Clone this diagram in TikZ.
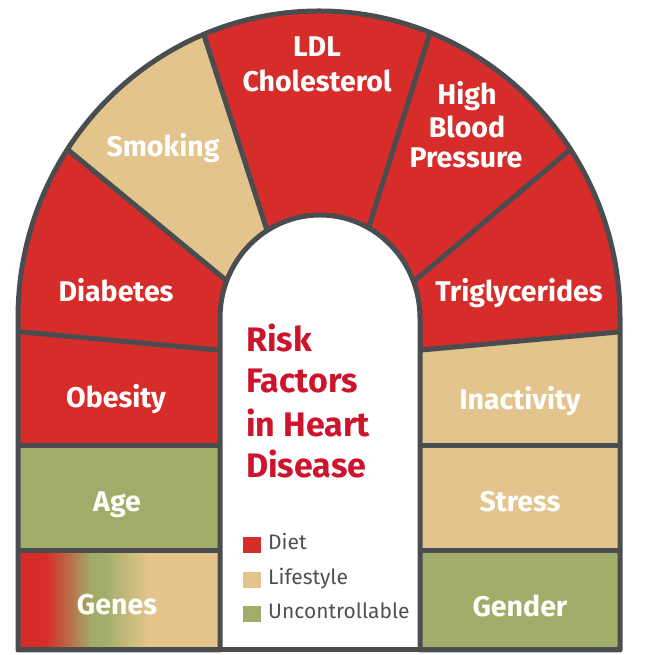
\documentclass[tikz,border=0pt]{standalone}
\usepackage{fontspec}
\setmainfont{Fira Sans}
\definecolor{rf}{HTML}{D62D2A}
\definecolor{tf}{HTML}{E2C48C}
\definecolor{gf}{HTML}{A1AC68}
\definecolor{bd}{HTML}{4A4D4F}
\definecolor{tr}{HTML}{CD142D}
\definecolor{lg}{HTML}{4F5055}
\pgfdeclarehorizontalshading{genesshade}{100bp}{color(0bp)=(rf); color(25bp)=(rf); color(32bp)=(rf); color(43bp)=(gf); color(46bp)=(gf); color(57bp)=(tf); color(100bp)=(tf)}
\tikzset{
  lab/.style={text=white, font=\fontsize{28.5}{32}\selectfont\bfseries, anchor=base, inner sep=0pt},
  ttl/.style={text=tr, font=\fontsize{34}{38}\selectfont\bfseries, anchor=base west, inner sep=0pt},
  leg/.style={text=lg, font=\fontsize{21}{24}\selectfont, anchor=base west, inner sep=0pt},
  divl/.style={draw=bd, line width=5pt, line cap=round},
}
\begin{document}
\begin{tikzpicture}[x=1pt,y=1pt]
\useasboundingbox (0,0) rectangle (667,655);
\def\archpath{(18,5) -- (18,337) arc[start angle=180,end angle=0,x radius=301pt,y radius=307pt] -- (620,5) -- (420,5) -- (420,337) arc[start angle=0,end angle=180,x radius=100pt,y radius=103pt] -- (220,5) -- cycle}
\begin{scope}
\clip \archpath;
\fill[rf] (0,0) rectangle (667,655);
\fill[tf] (10,553) -- (250,355) -- (275,400) -- (191,660) -- cycle;
\fill[tf] (400,209) -- (640,209) -- (640,325) -- (400,303) -- cycle;
\fill[tf] (400,104) rectangle (640,209);
\fill[gf] (400,0) rectangle (640,104);
\fill[gf] (0,104) rectangle (240,209);
\shade[shading=genesshade] (18,5) rectangle (220,104);
% dividers
\draw[divl] (10,553) -- (250,355);
\draw[divl] (191,660) -- (275,400);
\draw[divl] (442,660) -- (360,400);
\draw[divl] (590,522) -- (400,362);
\draw[divl] (0,325) -- (240,303);
\draw[divl] (400,303) -- (640,325);
\draw[divl] (0,209) -- (240,209);
\draw[divl] (0,104) -- (240,104);
\draw[divl] (400,209) -- (640,209);
\draw[divl] (400,104) -- (640,104);
\end{scope}
\draw[bd, line width=5pt, line join=round] \archpath;
\draw[bd, line width=5pt] (18,5) -- (620,5);
% labels
\node[lab] (ldl1) at (317,598) {LDL};
\node[lab] (ldl2) at (317,563) {Cholesterol};
\node[lab] (hbp1) at (467,550) {High};
\node[lab] (hbp2) at (467,517) {Blood};
\node[lab] (hbp3) at (466,487) {Pressure};
\node[lab] (smk) at (163,498) {Smoking};
\node[lab] (dia) at (116,353) {Diabetes};
\node[lab] (tri) at (519,353) {Triglycerides};
\node[lab] (obe) at (116,247) {Obesity};
\node[lab] (ina) at (520,245) {Inactivity};
\node[lab] (age) at (117,143) {Age};
\node[lab] (str) at (520,143) {Stress};
\node[lab] (gen) at (117,40) {Genes};
\node[lab] (gdr) at (520,38) {Gender};
% title
\node[ttl] (t1) at (246,303) {Risk};
\node[ttl] (t2) at (246,262) {Factors};
\node[ttl] (t3) at (246,218) {in Heart};
\node[ttl] (t4) at (246,177) {Disease};
% legend
\fill[rf] (243,102) rectangle (261,118);
\fill[tf] (243,67) rectangle (261,83);
\fill[gf] (243,33) rectangle (261,49);
\node[leg] (l1) at (268,105) {Diet};
\node[leg] (l2) at (268,70) {Lifestyle};
\node[leg] (l3) at (268,36) {Uncontrollable};
\end{tikzpicture}
\end{document}
